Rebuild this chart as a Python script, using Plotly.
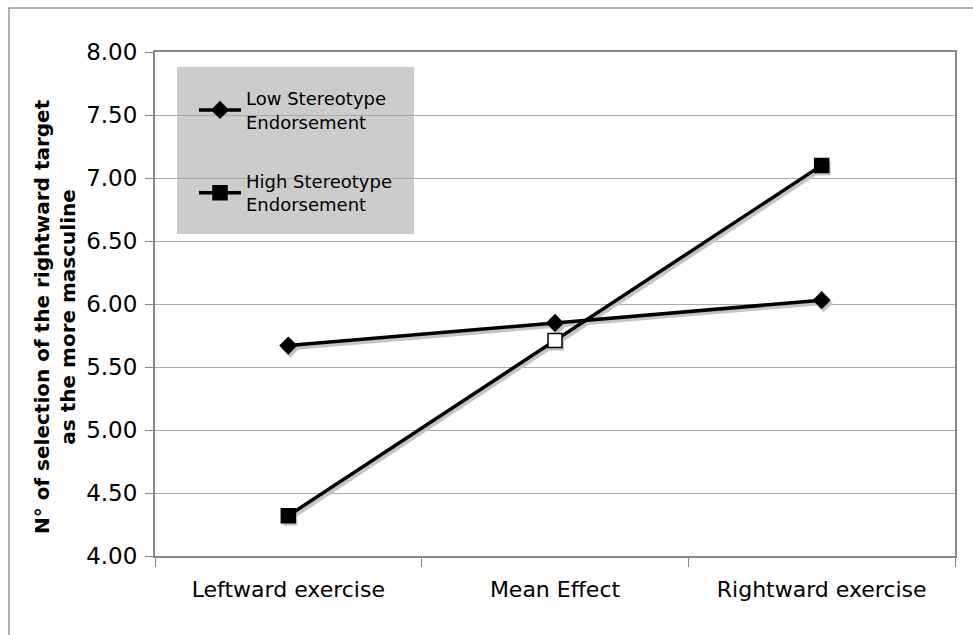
import plotly.graph_objects as go

categories = ["Leftward exercise", "Mean Effect", "Rightward exercise"]
low_values = [5.67, 5.85, 6.03]
high_values = [4.32, 5.71, 7.10]
series_names = ["Low Stereotype<br>Endorsement", "High Stereotype<br>Endorsement"]
y_tick_vals = [4.0, 4.5, 5.0, 5.5, 6.0, 6.5, 7.0, 7.5, 8.0]
y_tick_text = ["%.2f" % v for v in y_tick_vals]
y_title = "N° of selection of the rightward target<br>as the more masculine"

W, H = 973, 635
ML, MR, MT, MB = 155, 18, 52, 79
PW, PH = W - ML - MR, H - MT - MB
xr = [-0.5, 2.5]
yr = [4.0, 8.0]
# shadow offset (pixels)
dx, dy = 2, 3
xr_sh = [xr[0] - dx * 3 / PW, xr[1] - dx * 3 / PW]
yr_sh = [yr[0] + dy * 4 / PH, yr[1] + dy * 4 / PH]

font = "DejaVu Sans, Verdana, sans-serif"
shadow = "#c4c4c4"

fig = go.Figure()

# base (invisible trace to hold the visible axes)
fig.add_trace(go.Scatter(x=categories, y=low_values, mode="lines", line=dict(width=0),
                         hoverinfo="skip", showlegend=False, opacity=0))

# shadows
fig.add_trace(go.Scatter(x=categories, y=low_values, xaxis="x2", yaxis="y2", mode="lines+markers",
                         line=dict(color=shadow, width=3.5),
                         marker=dict(symbol="diamond", size=14, color=shadow),
                         showlegend=False, hoverinfo="skip"))
fig.add_trace(go.Scatter(x=categories, y=high_values, xaxis="x2", yaxis="y2", mode="lines+markers",
                         line=dict(color=shadow, width=3.5),
                         marker=dict(symbol="square", size=14, color=shadow),
                         showlegend=False, hoverinfo="skip"))

# main series
fig.add_trace(go.Scatter(x=categories, y=low_values, xaxis="x3", yaxis="y3", mode="lines+markers",
                         name=series_names[0], legendgroup="a",
                         line=dict(color="black", width=3.5),
                         marker=dict(symbol="diamond", size=14, color="black")))
fig.add_trace(go.Scatter(x=categories, y=high_values, xaxis="x3", yaxis="y3", mode="lines+markers",
                         name=series_names[1], legendgroup="b",
                         line=dict(color="black", width=3.5),
                         marker=dict(symbol="square", size=14,
                                     color=["black", "white", "black"],
                                     line=dict(color="black", width=1.5))))

fig.update_layout(
    width=W, height=H,
    margin=dict(l=ML, r=MR, t=MT, b=MB),
    paper_bgcolor="white", plot_bgcolor="white",
    font=dict(family=font, color="black"),
    xaxis=dict(type="category", range=xr, showgrid=False, tickson="boundaries",
               ticks="outside", ticklen=9, tickcolor="#888888",
               showline=True, linecolor="#888888", linewidth=2, mirror=True,
               tickfont=dict(size=22, family=font),
               ticklabelstandoff=13),
    yaxis=dict(range=yr, tickvals=y_tick_vals, ticktext=y_tick_text,
               showgrid=True, gridcolor="#aaaaaa", gridwidth=1,
               ticks="outside", ticklen=8, tickcolor="#888888",
               showline=True, linecolor="#888888", linewidth=2, mirror=True,
               tickfont=dict(size=23), zeroline=False, ticklabelstandoff=3),
    xaxis2=dict(type="category", range=xr_sh, overlaying="x", visible=False),
    yaxis2=dict(range=yr_sh, overlaying="y", visible=False),
    xaxis3=dict(type="category", range=xr, overlaying="x", visible=False),
    yaxis3=dict(range=yr, overlaying="y", visible=False),
    showlegend=True,
    legend=dict(x=(194 - ML) / PW, y=(H - MB - 80) / PH, xanchor="left", yanchor="top",
                bgcolor="rgba(0,0,0,0)", font=dict(size=18, family=font),
                tracegroupgap=33, traceorder="grouped", itemwidth=42),
    annotations=[
        dict(text=y_title, xref="paper", yref="paper",
             x=(55 - ML) / PW, y=(H - MB - 317) / PH, xanchor="center", yanchor="middle",
             textangle=-90, showarrow=False,
             font=dict(size=20, family=font, weight="bold")),
    ],
    shapes=[
        dict(type="rect", xref="paper", yref="paper",
             x0=(177 - ML) / PW, x1=(414 - ML) / PW,
             y0=(H - MB - 234) / PH, y1=(H - MB - 67) / PH,
             fillcolor="#cccccc", line=dict(width=0), layer="below"),
        dict(type="rect", xref="paper", yref="paper",
             x0=(9 - ML) / PW, x1=(1040 - ML) / PW,
             y0=(H - MB - 700) / PH, y1=(H - MB - 8) / PH,
             fillcolor="rgba(0,0,0,0)", line=dict(color="#999999", width=1.5), layer="below"),
    ],
)

fig.write_html("out.html", config={"displayModeBar": False},
               post_script="document.body.style.margin='0';")
